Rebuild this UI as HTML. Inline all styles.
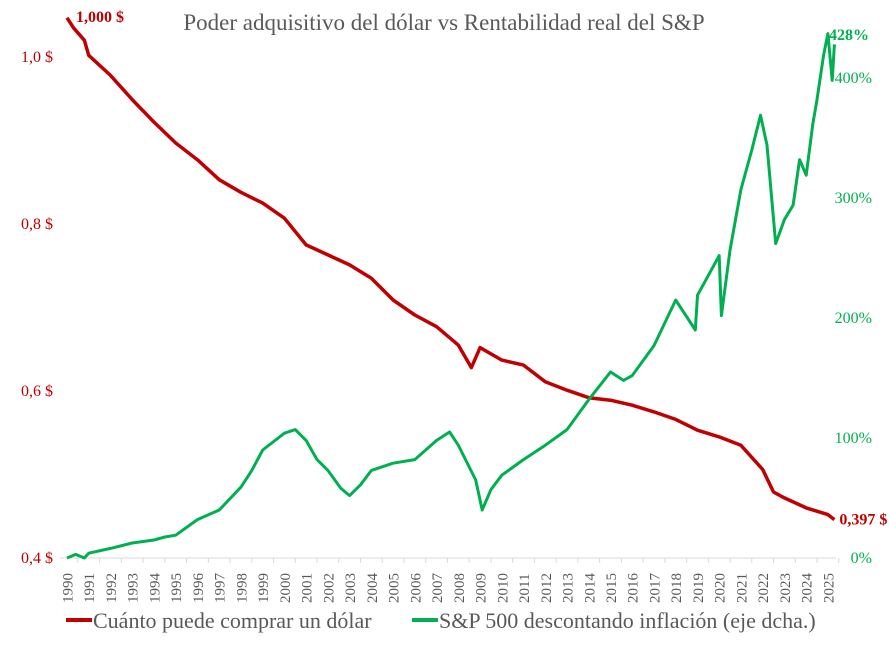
<!DOCTYPE html>
<html><head><meta charset="utf-8"><style>
body{margin:0;background:#fff;}
svg text{font-family:"Liberation Serif",serif;}
</style></head><body>
<svg width="889" height="645" viewBox="0 0 889 645">
<text x="444" y="30" text-anchor="middle" font-size="23" fill="#595959">Poder adquisitivo del dólar vs Rentabilidad real del S&amp;P</text>
<g id="axes"></g>
<g id="series"></g>
<g>
<g><line x1="66" y1="620" x2="92" y2="620" stroke="#c00000" stroke-width="4"/><text x="93" y="628" font-size="22" fill="#595959">Cuánto puede comprar un dólar</text></g>
<g><line x1="412" y1="620" x2="438" y2="620" stroke="#00b050" stroke-width="4"/><text x="439" y="628" font-size="22" fill="#595959">S&amp;P 500 descontando inflación (eje dcha.)</text></g>
</g>
</svg>
<script>
const leftTicks=[0.4,0.6,0.8,1.0];
const leftTickLabels=["0,4 $","0,6 $","0,8 $","1,0 $"];
const rightTicks=[0,100,200,300,400];
const rightTickLabels=["0%","100%","200%","300%","400%"];
const years=[];for(let y=1990;y<=2025;y++)years.push(y);
const dollarT=[1990,1990.3,1990.8,1991,1992,1993,1994,1995,1996,1997,1998,1999,2000,2001,2002,2003,2004,2005,2006,2007,2008,2008.6,2009,2010,2011,2012,2013,2014,2015,2016,2017,2018,2019,2020,2021,2022,2022.5,2023,2024,2025,2025.3];
const dollarV=[1.047,1.035,1.020,1.002,0.978,0.949,0.922,0.897,0.877,0.853,0.838,0.825,0.807,0.775,0.763,0.751,0.735,0.709,0.691,0.677,0.655,0.628,0.652,0.637,0.631,0.611,0.601,0.592,0.589,0.583,0.575,0.566,0.553,0.545,0.535,0.506,0.479,0.472,0.460,0.452,0.446];
const spT=[1990,1990.4,1990.8,1991,1992,1993,1994,1994.5,1995,1996,1997,1998,1998.5,1999,2000,2000.5,2001,2001.5,2002,2002.6,2003,2003.5,2004,2005,2006,2007,2007.6,2008,2008.8,2009.1,2009.5,2010,2011,2012,2013,2014,2015,2015.6,2016,2017,2018,2018.9,2019,2020,2020.1,2020.5,2021,2021.5,2021.9,2022.2,2022.6,2023,2023.4,2023.7,2024,2024.3,2024.5,2024.8,2025,2025.2,2025.3];
const spV=[0,3,0,4,8,12.5,15,17.5,19,32,40,59,73,90,104,107,98,82,73,58,52,61,73,79,82,98,105,94,65,40,57,69,82,94,107,132,155,148,152,177,215,190,219,252,202,257,307,340,369,344,262,282,294,332,319,361,382,419,437,398,428];
const X=t=>67+(t-1990)*21.74;
const YL=v=>558-(v-0.4)*835;
const YR=p=>558-p*1.2;
const NS="http://www.w3.org/2000/svg";
function mk(tag,attrs,parent,text){const e=document.createElementNS(NS,tag);for(const k in attrs)e.setAttribute(k,attrs[k]);if(text!==undefined)e.textContent=text;parent.appendChild(e);return e;}
const ax=document.getElementById('axes');
const base=mk('line',{x1:60,y1:558,x2:836,y2:558,stroke:'#d9d9d9','stroke-width':1},ax);


years.forEach(y=>{
 const tk=mk('line',{x1:X(y)+10.87,y1:558,x2:X(y)+10.87,y2:563,stroke:'#d9d9d9'},ax);
 
 
 const t=mk('text',{x:0,y:0,transform:`translate(${X(y)+5.5},603) rotate(-90)`,'font-size':15,fill:'#595959'},ax,String(y));
 
 
});
leftTicks.forEach((v,i)=>{
 const t=mk('text',{x:53,y:YL(v)+5,'text-anchor':'end','font-size':16,fill:'#c00000'},ax,leftTickLabels[i]);
 
 
});
rightTicks.forEach((v,i)=>{
 const t=mk('text',{x:872,y:YR(v)+5,'text-anchor':'end','font-size':16,fill:'#00b050'},ax,rightTickLabels[i]);
 
 
});
const sg=document.getElementById('series');
const d1=dollarT.map((t,i)=>(i?'L':'M')+X(t).toFixed(1)+','+YL(dollarV[i]).toFixed(1)).join('');
const p1=mk('path',{d:d1,fill:'none',stroke:'#c00000','stroke-width':3.5,'stroke-linejoin':'round'},sg);


const d2=spT.map((t,i)=>(i?'L':'M')+X(t).toFixed(1)+','+YR(spV[i]).toFixed(1)).join('');
const p2=mk('path',{d:d2,fill:'none',stroke:'#00b050','stroke-width':3,'stroke-linejoin':'round'},sg);


const l1=mk('text',{x:X(dollarT[0])+9,y:YL(dollarV[0])+4,'font-size':16,'font-weight':'bold',fill:'#c00000'},sg,'1,000 $');


const l2=mk('text',{x:X(dollarT[dollarT.length-1])+5,y:YL(dollarV[dollarV.length-1])+5,'font-size':16,'font-weight':'bold',fill:'#c00000'},sg,'0,397 $');


const l3=mk('text',{x:829,y:40,'font-size':16,'font-weight':'bold',fill:'#00b050'},sg,'428%');


</script>
</body></html>
